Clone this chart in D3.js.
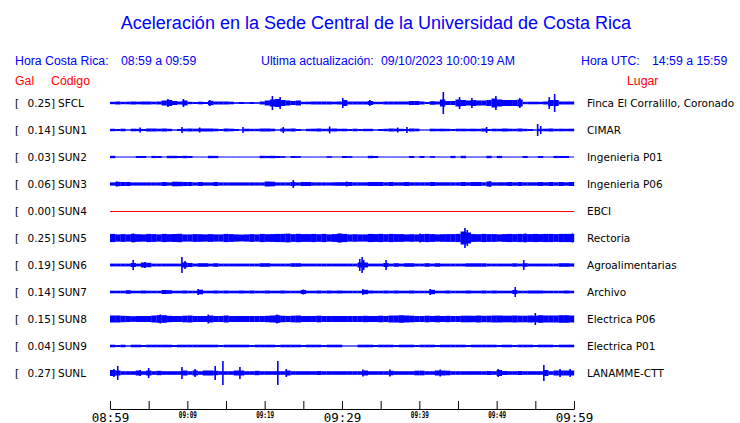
<!DOCTYPE html>
<html><head><meta charset="utf-8">
<script src="https://cdn.jsdelivr.net/npm/d3@7"></script>
<style>body{margin:0;background:#fff}svg{display:block}</style>
</head><body><svg id="c" width="740" height="423"></svg>
<script>
// ---------- data ----------
const codes = ["SFCL","SUN1","SUN2","SUN3","SUN4","SUN5","SUN6","SUN7","SUN8","SUN9","SUNL"];
const gal = [0.25,0.14,0.03,0.06,0.00,0.25,0.19,0.14,0.15,0.04,0.27];
const places = ["Finca El Corralillo, Coronado","CIMAR","Ingenieria P01","Ingenieria P06","EBCI","Rectoria","Agroalimentarias","Archivo","Electrica P06","Electrica P01","LANAMME-CTT"];
const tickLabels = ["08:59","09:09","09:19","09:29","09:39","09:49","09:59"];
const majorLabels = ["08:59","09:29","09:59"];

// envelope (half amplitude, relative units) in 40 s windows, 90 windows = 60 min
const envSFCL = [1.2,1.5,1.2,1.3,1.5,1.3,1.5,1.5,1.3,1.5, 2.5,3,2,1.5,2.5,1.2,1,1.3,1,2.2, 1.5,1.5,1.5,1.3,0.8,1,0.8,1,0.8,1.5, 2.5,3.5,4,3,2.5,2,2.5,1.2,1.3,1.5, 1.5,1.5,1.5,1.3,1.5,3,1.5,1.5,1.5,1.5, 2,1.2,1.2,1.5,1.5,1.5,1.5,1.5,2,2, 1.5,1,1.8,1.5,3.5,2,2,3.5,3,2.5, 3,2.5,2.5,3,4.5,3.5,3,3,3,3.5, 1.2,1.3,1.3,1.2,1.5,3,3,1.5,1.5,1.5];
const envSUN1 = [1.2,1,1.3,0.7,1.3,1.2,1,1.5,1.5,1.3, 1.5,1.2,0.7,1,1.3,1.5,1.3,1.5,1.5,1.5, 1.3,1,1.5,1.3,1,0.7,1.3,1.2,1.2,1.5, 1.5,1.3,0.7,1.5,1.3,1.5,1,0.7,1.2,1.3, 1.5,1.2,1.3,1.5,1.2,1.3,1,1.3,1,1.2, 1.2,0.7,1,1.2,1.5,1.3,1.2,1,1.5,1.3, 0.6,0.6,1.3,1.2,1.3,1.2,1,1.3,1.3,1.2, 1.3,1.2,1.5,1,1.3,1.2,1.5,1.3,1.2,1.5, 1.2,1,0.7,1.2,1.3,1.5,1.2,1.3,1.2,1.3];
const envSUN2 = [1.2,0.5,0.5,0.5,0.5,1,1,0.5,1.1,1, 0.5,1.2,1.2,1,1.2,1,0.5,0.5,0.5,1.2, 1.1,0.5,0.5,0.5,0.5,0.5,0.5,0.5,0.5,1.2, 1.1,1.2,1,0.9,0.5,1,0.9,0.5,0.5,0.5, 0.5,0.5,0.9,0.5,0.5,1,0.9,0.5,0.5,0.5, 1.2,1,0.5,0.5,0.5,0.5,0.5,0.5,1,0.5, 1,0.5,0.9,0.5,0.5,0.5,1.1,0.5,1.2,0.5, 0.5,0.5,0.5,1.2,0.5,1.1,0.5,0.5,0.5,0.5, 1,0.5,0.5,1,0.5,0.5,1.1,1,1,0.5];
const envSUN3 = [1.6,2.2,2,2,1.6,1.6,1.6,1.6,1.6,1.6, 2,1.6,2.3,2.2,2,2,1.6,2,1.6,1.6, 2,1.6,1.6,1.6,1.6,1.6,1.6,1.6,1.6,1.6, 2.5,2.3,1.6,1.6,1.6,2,1.6,2,2,1.6, 1.6,1.6,1.6,1.7,1.8,1.8,2,1.7,1.7,1.7, 2,2,2,1.7,2,1.7,1.7,2,1.7,1.7, 1.7,1.7,2,1.7,1.7,1.7,1.7,1.7,2,1.7, 2,2,1.7,2.5,1.7,1.7,1.7,2,1.7,2, 1.7,1.7,1.7,2,1.7,2,1.7,2,1.7,2];
const envSUN4 = [];
const envSUN5 = [4.1,3.6,3.9,3.6,4.1,3.8,3.6,4.1,3.9,3.6, 4.1,3.8,4,4.2,3.6,3.6,3.9,3.8,3.6,3.9, 3.6,3.6,4.1,3.9,3.6,3.4,3.6,3.9,3.6,4.1, 3.8,3.9,4.1,4.1,4.4,3.9,4.2,3.9,3.9,4.1, 3.8,4.1,3.6,3.9,4.4,4.1,3.6,3.8,3.6,3.6, 4.1,3.9,4.1,3.8,4.1,3.9,3.9,3.6,3.8,3.6, 3.9,4.1,3.9,3.6,3.8,3.9,3.9,4.1,6.5,5.5, 3.9,3.8,4.1,3.9,3.9,3.6,3.9,4.1,3.9,4.1, 4.1,3.9,4.1,3.9,4.1,4.1,3.9,4.1,4.1,4.1];
const envSUN6 = [1.4,1.4,1.4,1.4,2,1.4,2.5,2.2,1.4,1.4, 1.4,1.4,1.4,1.4,2.5,2,1.4,1.8,1.8,1.4, 1.8,1.4,1.4,1.4,1.4,1.4,1.4,1.4,1.4,1.8, 1.8,1.4,1.4,1.4,1.4,1.8,1.8,1.4,1.4,1.4, 1.4,1.4,1.4,1.4,1.4,1.4,1.4,1.4,2.5,2.5, 1.4,1.4,1.4,2,1.4,1.8,1.4,1.8,1.8,1.4, 1.4,1.8,1.4,1.8,1.4,1.4,1.4,1.4,1.4,1.7, 1.7,1.7,1.7,1.4,1.4,1.4,1.4,1.4,1.7,1.4, 1.8,1.4,1.4,1.4,1.4,1.4,1.4,1.8,1.8,1.6];
const envSUN7 = [1.3,1.3,1.3,1.8,1.3,1.3,1.5,1.3,1.3,1.3, 2,1.8,1.3,1.3,1.5,1.3,1.3,2.3,1.3,1.3, 1.5,1.3,1.5,1.3,1.3,1.5,1.3,1.5,1.3,1.3, 1.5,1.3,1.3,1.5,1.3,1.3,1.3,2,1.3,1.3, 1.5,1.3,1.5,1.3,1.5,1.3,1.3,1.3,1.3,2.2, 1.5,1.3,1.3,1.5,1.3,1.5,1.3,1.3,1.5,1.3, 1.3,1.3,2.2,1.3,1.3,1.5,1.3,1.3,1.3,1.5, 1.3,1.3,1.5,1.3,1.5,1.3,1.3,1.3,2,1.3, 1.3,1.5,1.5,1.5,1.3,1.3,1.3,1.3,1.5,1.3];
const envSUN8 = [3.5,3.5,3.2,3,2.8,3,3,3,3.5,3.8, 3.8,3.2,3,3,3.3,3.5,3,3,3,3.5, 3,3,3.5,3,3,3,3,3,3,3, 3.2,3.5,3.8,3.2,3,3.3,3.5,3,3,3, 3.3,3,3,3,3,3,3,3,3,3.2, 3,3,3.3,3,3.5,3.5,3.8,3.5,3.3,3, 3,3.3,3,3.3,3,3.2,3,3,3.3,3.3, 3.2,3.5,3.2,3.3,3.5,3.5,3.3,3.3,3.5,3.3, 3.3,3.5,3.3,3.8,3.5,3.5,3.5,3.8,3.8,3.5];
const envSUN9 = [1.3,1,1.3,0.7,1.3,1.3,1,1.3,1.3,1.3, 1.3,1.3,1,1.3,1.3,1.3,1.3,1.3,1.3,1.3, 1.3,1,1.3,1.3,1.3,1.3,1.3,1,1.3,1.3, 1.3,1.3,1,1.3,1.3,1.3,1.3,1,1.3,1.3, 1.3,1,1.3,1.3,1.3,0.6,0.6,0.6,1.3,1.3, 1.3,1,1.3,1.3,1.3,1,1.3,1.3,1.3,1, 1.3,1.3,1.3,1,1.3,1.3,1.3,1.3,1.3,1, 1.3,1.3,1.3,1.3,1.3,1,1.3,1.3,1,1.3, 1.3,1.3,1,1.3,1.3,1.3,1,1.3,1.3,1.3];
const envSUNL = [3,2.5,1.8,1.8,1.8,2.5,1.8,2.5,1.8,2.2, 1.8,1.8,1.8,1.8,2.5,1.8,2.5,1.8,2.5,2.5, 2.2,1.8,1.8,1.8,2.5,2.5,1.8,1.8,2.2,1.8, 1.8,1.8,1.8,1.8,2.5,1.8,1.8,1.8,1.8,1.8, 2,1.8,1.8,1.8,1.8,1.8,1.8,1.8,1.8,2.5, 1.8,1.8,1.8,1.8,2.2,1.8,1.8,1.8,1.8,2.3, 2.3,1.8,1.8,2.5,2.5,2.3,1.8,1.8,1.8,1.8, 1.8,1.8,1.8,2,1.8,3,2,1.8,1.8,2, 1.8,1.8,1.8,1.8,3,1.8,2.5,2.5,2.5,2.5];

// individual peaks: [minute after 08:59, half amplitude]
const pkSFCL = [[7.5,4],[9.5,4],[12.9,3],[21,7],[22,6],[30.1,5],[33.6,3],[43.1,11],[45.2,6],[46.8,5],[49.9,7],[53.0,5],[56.8,6],[57.5,9]];
const pkSUN1 = [[3.9,2.5],[9.3,3],[11.6,2.5],[17.2,3],[22.4,3],[28.4,3.5],[37.2,2.5],[38.4,3],[48.7,3],[55.3,6],[55.7,4]];
const pkSUN2 = [];
const pkSUN3 = [[0.9,2.5],[23.7,4],[30.6,2.5],[49.1,3]];
const pkSUN4 = [];
const pkSUN5 = [[3,4.5],[29.7,4.5],[40.1,4.5],[45.9,10],[46.2,8],[53.7,4.5],[59.8,4.5]];
const pkSUN6 = [[3.0,5],[4.5,3],[9.3,8],[9.7,4],[32.3,6],[32.6,8],[32.8,5],[35.7,5],[53.5,5]];
const pkSUN7 = [[11.4,3],[25,2.5],[32.7,3],[41.4,3],[52.4,5]];
const pkSUN8 = [[6.5,4.5],[12.7,4.5],[21.6,4.5],[55,6]];
const pkSUN9 = [];
const pkSUNL = [[0.5,4],[1.0,7],[3.9,3],[5.0,5],[9.3,6],[11,4],[13.6,7],[14.6,12],[16.8,6],[21.7,12],[22.8,4],[32.7,3.5],[36.2,3.5],[42.7,3.5],[50.2,4],[56.1,8],[58.2,4],[59.5,4]];

const envelopes = [envSFCL,envSUN1,envSUN2,envSUN3,envSUN4,envSUN5,envSUN6,envSUN7,envSUN8,envSUN9,envSUNL];
const peaks = [pkSFCL,pkSUN1,pkSUN2,pkSUN3,pkSUN4,pkSUN5,pkSUN6,pkSUN7,pkSUN8,pkSUN9,pkSUNL];

// ---------- drawing ----------
const svg = d3.select("#c");
const BLUE = "#0000ff", RED = "#ff0000";
const sans = "'Liberation Sans', Arial, sans-serif";
const dv = "'DejaVu Sans', sans-serif";

const x = d3.scaleLinear().domain([0,60]).range([110,574]);
const y = d3.scalePoint().domain(codes).range([103,373]);
const amp = d3.scaleLinear().domain([0,10]).range([0,10]);

// title and header
svg.append("text").attr("x",376).attr("y",29).attr("text-anchor","middle")
  .attr("font-family",sans).attr("font-size",18).attr("fill",BLUE)
  .text("Aceleración en la Sede Central de la Universidad de Costa Rica");
const hdr = [[15,"Hora Costa Rica:"],[121,"08:59 a 09:59"],[261,"Ultima actualización:"],[381,"09/10/2023 10:00:19 AM"],[581,"Hora UTC:"],[652,"14:59 a 15:59"]];
svg.selectAll("text.hdr").data(hdr).join("text").attr("class","hdr")
  .attr("x",d=>d[0]).attr("y",64.5).attr("font-family",sans).attr("font-size",12.3).attr("fill",BLUE).text(d=>d[1]);
const hdr2 = [[15,"Gal"],[51,"Código"],[627,"Lugar"]];
svg.selectAll("text.hdr2").data(hdr2).join("text").attr("class","hdr2")
  .attr("x",d=>d[0]).attr("y",84.5).attr("font-family",sans).attr("font-size",12.3).attr("fill",RED).text(d=>d[1]);

// row labels
const rows = svg.append("g").selectAll("g").data(codes).join("g")
  .attr("transform",d=>`translate(0,${y(d)})`);
rows.append("text").attr("x",15).attr("y",4).attr("font-family",dv).attr("font-size",10.5).text("[");
rows.append("text").attr("x",55).attr("y",4).attr("text-anchor","end").attr("font-family",dv).attr("font-size",10.5).text((d,i)=>gal[i].toFixed(2)+"]");
rows.append("text").attr("x",58).attr("y",4).attr("font-family",dv).attr("font-size",10.5).text(d=>d);
rows.append("text").attr("x",587).attr("y",4).attr("font-family",dv).attr("font-size",10.5).text((d,i)=>places[i]);

// traces
const bw = 60/90;
rows.each(function(code,i){
  const g = d3.select(this);
  const env = envelopes[i];
  if (env.length === 0) {
    g.append("line").attr("x1",x(0)).attr("x2",x(60)).attr("y1",0.5).attr("y2",0.5)
      .attr("stroke",RED).attr("stroke-width",1);
    return;
  }
  g.selectAll("rect.env").data(env).join("rect").attr("class","env")
    .attr("x",(d,k)=>x(k*bw)).attr("width",(d,k)=>x((k+1)*bw)-x(k*bw)+0.2)
    .attr("y",d=>-amp(d)).attr("height",d=>2*amp(d)).attr("fill",BLUE);
  g.selectAll("line.pk").data(peaks[i]).join("line").attr("class","pk")
    .attr("x1",d=>x(d[0])).attr("x2",d=>x(d[0]))
    .attr("y1",d=>-amp(d[1])).attr("y2",d=>amp(d[1]))
    .attr("stroke",BLUE).attr("stroke-width",1.6);
});

// time axis
const axis = d3.axisBottom(x).tickValues(d3.range(0,61,5)).tickSizeInner(-8).tickSizeOuter(0)
  .tickFormat(m => m%10===0 ? tickLabels[m/10] : "");
const ax = svg.append("g").attr("transform","translate(0,409)").call(axis);
ax.select(".domain").attr("stroke","#000");
ax.selectAll(".tick line").attr("stroke","#000");
ax.selectAll(".tick text").attr("fill","#000").attr("dy",null)
  .each(function(){
    const t = d3.select(this), s = t.text();
    if (majorLabels.includes(s)) {
      t.attr("y",12.5).attr("font-family","'DejaVu Sans Mono', monospace").attr("font-size",12.5);
    } else {
      t.attr("y",8.5).attr("font-family","'DejaVu Sans Mono', monospace").attr("font-size",8.5)
       .attr("font-weight","bold").attr("textLength",18).attr("lengthAdjust","spacingAndGlyphs");
    }
  });
</script></body></html>
